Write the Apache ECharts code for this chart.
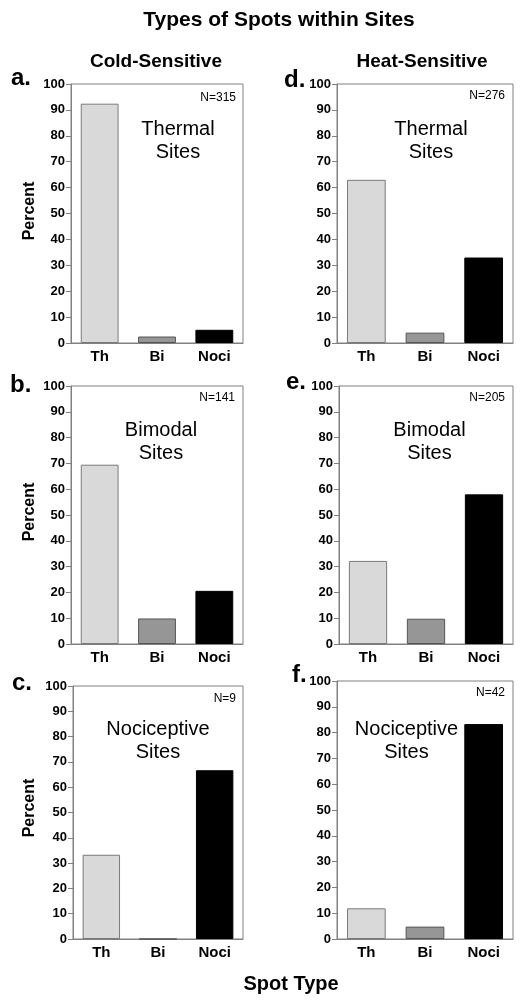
<!DOCTYPE html>
<html>
<head>
<meta charset="utf-8">
<script src="https://cdn.jsdelivr.net/npm/echarts@6/dist/echarts.min.js"></script>
<style>
html,body{margin:0;padding:0;background:#fff;}
#chart{width:525px;height:1006px;}
</style>
</head>
<body>
<div id="chart"></div>
<script>
// ---- data ----
const categories = ['Th', 'Bi', 'Noci'];
const coldThermal = [92.4, 2.5, 5.1];
const coldBimodal = [69.5, 9.9, 20.6];
const coldNociceptive = [33.3, 0, 66.7];
const heatThermal = [63.0, 4.0, 33.0];
const heatBimodal = [32.2, 9.8, 58.0];
const heatNociceptive = [11.9, 4.8, 83.3];
const panelLetters = ['a.', 'b.', 'c.', 'd.', 'e.', 'f.'];
const panelNames = [['Thermal', 'Sites'], ['Bimodal', 'Sites'], ['Nociceptive', 'Sites'],
                    ['Thermal', 'Sites'], ['Bimodal', 'Sites'], ['Nociceptive', 'Sites']];
const panelN = ['N=315', 'N=141', 'N=9', 'N=276', 'N=205', 'N=42'];
const yMin = 0, yMax = 100, yStep = 10;

const FONT = '"Liberation Sans", Arial, sans-serif';
const barFill = ['#d9d9d9', '#969696', '#000000'];
const barEdge = ['#7a7a7a', '#555555', '#000000'];

const panelData = [coldThermal, coldBimodal, coldNociceptive, heatThermal, heatBimodal, heatNociceptive];
// layout (px)
const grids = [
  {left: 71, top: 84, width: 172, height: 259},
  {left: 71, top: 386, width: 172, height: 258},
  {left: 73, top: 686, width: 170, height: 253},
  {left: 337, top: 84, width: 176, height: 259},
  {left: 339, top: 386, width: 174, height: 258},
  {left: 337, top: 681, width: 176, height: 258}
];
const letterPos = [[11, 78], [10, 385], [12, 683], [284, 80], [286, 382], [292, 675]];
const namePos = [[178, 129], [161, 430], [158, 729], [431, 129], [429.5, 430], [406.5, 729]];
const nPos = [[236, 97.5], [235, 398], [236, 699], [505, 96], [505, 398], [505, 693]];

const option = {
  backgroundColor: '#fff',
  animation: false,
  grid: grids.map(g => Object.assign({show: true, borderColor: '#808080', borderWidth: 1, backgroundColor: 'transparent'}, g)),
  xAxis: grids.map((g, i) => ({
    type: 'category', gridIndex: i, data: categories,
    axisLine: {lineStyle: {color: '#808080', width: 1}},
    axisTick: {alignWithLabel: true, length: 4, lineStyle: {color: '#808080'}},
    axisLabel: {color: '#000', fontFamily: FONT, fontWeight: 'bold', fontSize: 15, margin: 6}
  })),
  yAxis: grids.map((g, i) => ({
    type: 'value', gridIndex: i, min: yMin, max: yMax, interval: yStep,
    splitLine: {show: false},
    axisLine: {show: true, lineStyle: {color: '#808080', width: 1}},
    axisTick: {show: true, length: 5, lineStyle: {color: '#808080'}},
    axisLabel: {color: '#000', fontFamily: FONT, fontWeight: 'bold', fontSize: 13, margin: 6}
  })),
  series: panelData.map((d, i) => ({
    type: 'bar', xAxisIndex: i, yAxisIndex: i, barWidth: '66%',
    data: d.map((v, j) => ({value: v, itemStyle: {color: barFill[j], borderColor: barEdge[j], borderWidth: 1}}))
  })),
  graphic: []
};

const G = option.graphic;
function txt(x, y, text, size, weight, align, rot) {
  const el = {type: 'text', x: x, y: y, silent: true,
    style: {text: text, fill: '#000', font: (weight || 'normal') + ' ' + size + 'px ' + FONT,
      textAlign: align || 'center', textVerticalAlign: 'middle', verticalAlign: 'middle'}};
  if (rot) el.rotation = rot;
  G.push(el);
}
txt(279, 20, 'Types of Spots within Sites', 21, 'bold');
txt(156, 61.5, 'Cold-Sensitive', 19, 'bold');
txt(422, 61.5, 'Heat-Sensitive', 19, 'bold');
txt(291, 984, 'Spot Type', 20, 'bold');
[211, 512, 808].forEach(y => txt(29.5, y, 'Percent', 16, 'bold', 'center', Math.PI / 2));
panelLetters.forEach((t, i) => txt(letterPos[i][0], letterPos[i][1], t, 24, 'bold', 'left'));
panelNames.forEach((lines, i) => {
  txt(namePos[i][0], namePos[i][1], lines[0], 20, 'normal');
  txt(namePos[i][0], namePos[i][1] + 23, lines[1], 20, 'normal');
});
panelN.forEach((t, i) => txt(nPos[i][0], nPos[i][1], t, 12, 'normal', 'right'));

const chart = echarts.init(document.getElementById('chart'), null, {renderer: 'canvas'});
chart.setOption(option);
</script>
</body>
</html>
